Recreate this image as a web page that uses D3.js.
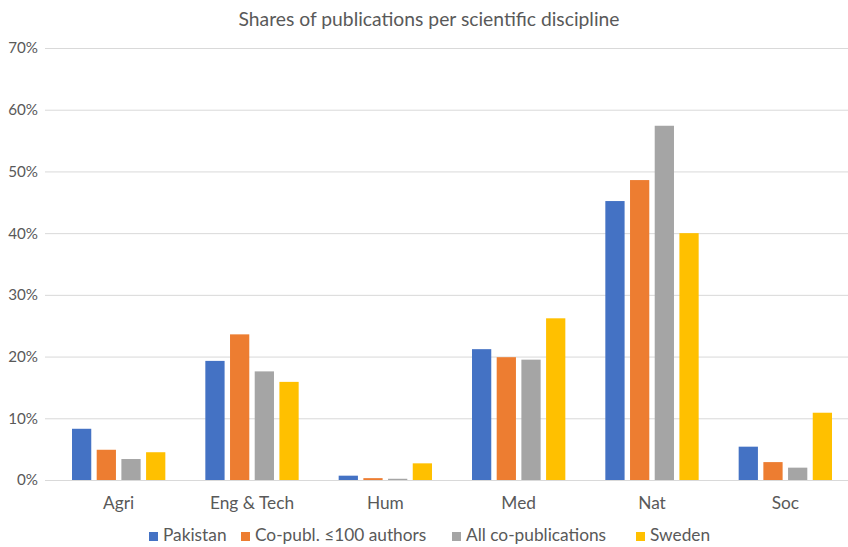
<!DOCTYPE html>
<html>
<head>
<meta charset="utf-8">
<script src="https://cdn.jsdelivr.net/npm/d3@7"></script>
<style>
  body { margin: 0; background: #fff; }
  svg { display: block; font-family: Lato, "Open Sans", sans-serif; }
</style>
</head>
<body>
<svg id="chart" width="848" height="547"></svg>
<script>
// Disciplines and the share of publications (%) per series
const categories = ["Agri", "Eng & Tech", "Hum", "Med", "Nat", "Soc"];
const seriesNames = ["Pakistan", "Co-publ. \u2264100 authors", "All co-publications", "Sweden"];
const pakistan = [8.3, 19.3, 0.7, 21.2, 45.2, 5.4];
const coPubl100 = [4.9, 23.6, 0.3, 19.9, 48.6, 2.9];
const allCoPubl = [3.4, 17.6, 0.2, 19.5, 57.4, 2.0];
const sweden = [4.5, 15.9, 2.7, 26.2, 40.0, 10.9];
const yTicks = [0, 10, 20, 30, 40, 50, 60, 70];
const colors = ["#4472C4", "#ED7D31", "#A5A5A5", "#FFC000"];

const seriesValues = [pakistan, coPubl100, allCoPubl, sweden];

const svg = d3.select("#chart");
const margin = { left: 52, right: -4, top: 48, bottom: 67 };
const W = 848, H = 547;

const x = d3.scaleBand().domain(categories).range([margin.left, W - margin.right]).paddingInner(0).paddingOuter(0);
const x1 = d3.scaleBand().domain(d3.range(seriesNames.length)).range([20, x.bandwidth() - 20]).paddingInner(0.22);
const y = d3.scaleLinear().domain([0, 70]).range([H - margin.bottom, margin.top]);

// Title
svg.append("text")
  .attr("x", 429).attr("y", 26)
  .attr("text-anchor", "middle")
  .attr("font-size", 19.3)
  .attr("fill", "#595959")
  .text("Shares of publications per scientific discipline");

// Horizontal gridlines
svg.append("g").selectAll("line").data(yTicks).join("line")
  .attr("x1", 45).attr("x2", W)
  .attr("y1", d => y(d) + 0.5).attr("y2", d => y(d) + 0.5)
  .attr("stroke", "#D9D9D9").attr("stroke-width", 1);

// Y axis labels
const yAxis = d3.axisLeft(y).tickValues(yTicks).tickFormat(d => d + "%").tickSize(0).tickPadding(0);
const gy = svg.append("g").attr("transform", "translate(38,0)").call(yAxis);
gy.select(".domain").remove();
gy.selectAll("text").attr("font-size", 15.2).attr("fill", "#595959").attr("font-family", "Lato, 'Open Sans', sans-serif");

// Bars
const groups = svg.append("g").selectAll("g").data(categories).join("g")
  .attr("transform", d => `translate(${x(d)},0)`);
groups.selectAll("rect")
  .data((c, i) => seriesValues.map((vals, s) => ({ s, v: vals[i] })))
  .join("rect")
  .attr("x", d => x1(d.s))
  .attr("width", x1.bandwidth())
  .attr("y", d => y(d.v))
  .attr("height", d => y(0) - y(d.v))
  .attr("fill", d => colors[d.s]);

// X axis category labels
const xAxis = d3.axisBottom(x).tickSize(0).tickPadding(0);
const gx = svg.append("g").attr("transform", `translate(0,${y(0) + 29})`).call(xAxis);
gx.select(".domain").remove();
gx.selectAll("text").attr("font-size", 17.3).attr("fill", "#595959").attr("dy", 0).attr("font-family", "Lato, 'Open Sans', sans-serif");

// Legend
const legendX = [149, 241, 452, 636];
const legend = svg.append("g").selectAll("g").data(seriesNames).join("g")
  .attr("transform", (d, i) => `translate(${legendX[i]},541)`);
legend.append("rect").attr("x", 0).attr("y", -9).attr("width", 9).attr("height", 9)
  .attr("fill", (d, i) => colors[i]);
legend.append("text").attr("x", 14).attr("y", 0)
  .attr("font-size", 17.3).attr("fill", "#595959")
  .text(d => d);
</script>
</body>
</html>
